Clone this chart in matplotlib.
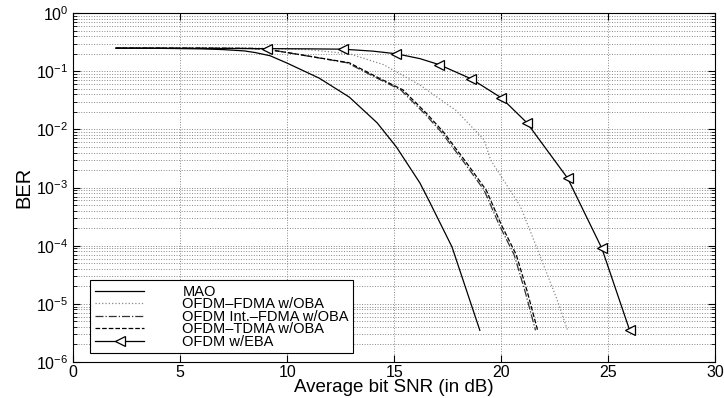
import numpy as np
import matplotlib.pyplot as plt
from matplotlib.ticker import FixedLocator, NullFormatter

plt.rcParams['font.family'] = ['Liberation Sans', 'DejaVu Sans']
plt.rcParams['mathtext.fontset'] = 'custom'
plt.rcParams['mathtext.rm'] = 'Liberation Sans'

# values (SNR in dB, BER)
mao_snr = [2, 4, 6, 7, 8, 8.5, 9.2, 10, 11.5, 12.9, 14.2, 15.1, 16.2, 16.6, 17.7, 19.0]
mao_ber = [0.25, 0.248, 0.243, 0.236, 0.224, 0.21, 0.185, 0.138, 0.076, 0.036, 0.013,
           5.0e-3, 1.2e-3, 6.2e-4, 9.5e-5, 3.5e-6]

fdma_snr = [2, 6, 9, 11, 12.9, 14.5, 16.2, 17.9, 19.2, 19.5, 20.9, 21.7, 22.6, 23.1]
fdma_ber = [0.25, 0.25, 0.249, 0.235, 0.2, 0.13, 0.058, 0.021, 6.6e-3, 3.0e-3,
            4.7e-4, 8.5e-5, 1.2e-5, 3.5e-6]

intfdma_snr = [2, 6, 8.3, 9, 10, 12.8, 14.2, 15.3, 16.4, 17.2, 18.3, 19.2, 19.9, 20.6, 21.1, 21.6]
intfdma_ber = [0.25, 0.25, 0.247, 0.24, 0.21, 0.14, 0.076, 0.048, 0.019, 9e-3, 2.6e-3,
               9e-4, 2.3e-4, 7e-5, 1.7e-5, 3.5e-6]

tdma_snr = [2, 6, 8.3, 9, 10, 12.9, 14.3, 15.4, 16.5, 17.3, 18.4, 19.3, 20.0, 20.7, 21.2, 21.7]
tdma_ber = [0.25, 0.25, 0.247, 0.24, 0.21, 0.14, 0.076, 0.048, 0.019, 9e-3, 2.6e-3,
            9e-4, 2.3e-4, 7e-5, 1.7e-5, 3.5e-6]

eba_snr = [2, 5, 9.05, 11, 12.6, 14, 15.1, 16.2, 17.1, 18.6, 20.0, 21.2, 23.1, 24.7, 26.0]
eba_ber = [0.25, 0.248, 0.245, 0.243, 0.24, 0.222, 0.2, 0.165, 0.13, 0.074, 0.035,
           0.013, 1.45e-3, 9e-5, 3.5e-6]
eba_marks = [2, 4, 6, 8, 9, 10, 11, 12, 13, 14]

x_ticks = [0, 5, 10, 15, 20, 25, 30]
decades = [-6, -5, -4, -3, -2, -1, 0]

fig = plt.figure(figsize=(7.24, 3.98), dpi=100)
ax = fig.add_axes([0.101, 0.0905, 0.887, 0.8765])

ax.semilogy(mao_snr, mao_ber, '-', color='black', lw=0.9, label='MAO')
ax.semilogy(fdma_snr, fdma_ber, ':', color='#888888', lw=0.9, label='OFDM\u2013FDMA w/OBA')
ax.semilogy(intfdma_snr, intfdma_ber, '-.', color='#333333', lw=0.9,
            label='OFDM Int.\u2013FDMA w/OBA')
ax.semilogy(tdma_snr, tdma_ber, '--', color='black', lw=0.9, label='OFDM\u2013TDMA w/OBA')
ax.semilogy(eba_snr, eba_ber, '-', color='black', lw=0.9, marker='<', markevery=eba_marks,
            markersize=7, markerfacecolor='white', markeredgecolor='black', mew=0.9,
            label='OFDM w/EBA')

ax.set_xlim(0, 30)
ax.set_ylim(1e-6, 1)
ax.set_xticks(x_ticks)
ax.set_yticks([10.0 ** d for d in decades])
ax.set_yticklabels([r'$10^{%d}$' % d for d in decades])
minor = [m * 10.0 ** d for d in decades[:-1] for m in range(2, 10)]
ax.yaxis.set_minor_locator(FixedLocator(minor))
ax.yaxis.set_minor_formatter(NullFormatter())
ax.tick_params(which='both', direction='in', top=True, right=True, labelsize=11.5)
ax.tick_params(axis='x', pad=2)
ax.tick_params(which='major', length=5)
ax.tick_params(which='minor', length=3)

ax.grid(True, which='major', axis='both', linestyle=':', color='#888888', lw=0.7)
ax.grid(True, which='minor', axis='y', linestyle=':', color='#888888', lw=0.7)

ax.set_xlabel('Average bit SNR (in dB)', fontsize=13.5, labelpad=-0.5)
ax.set_ylabel('BER', fontsize=14.5, labelpad=2)

leg = ax.legend(loc='lower left', bbox_to_anchor=(0.027, 0.025), fontsize=10.5,
                handlelength=3.4, handletextpad=2.6, labelspacing=-0.1,
                borderpad=0.3, borderaxespad=0, fancybox=False, framealpha=1)
leg.get_frame().set_edgecolor('black')
leg.get_frame().set_linewidth(0.8)

fig.savefig('out.png', dpi=100)
